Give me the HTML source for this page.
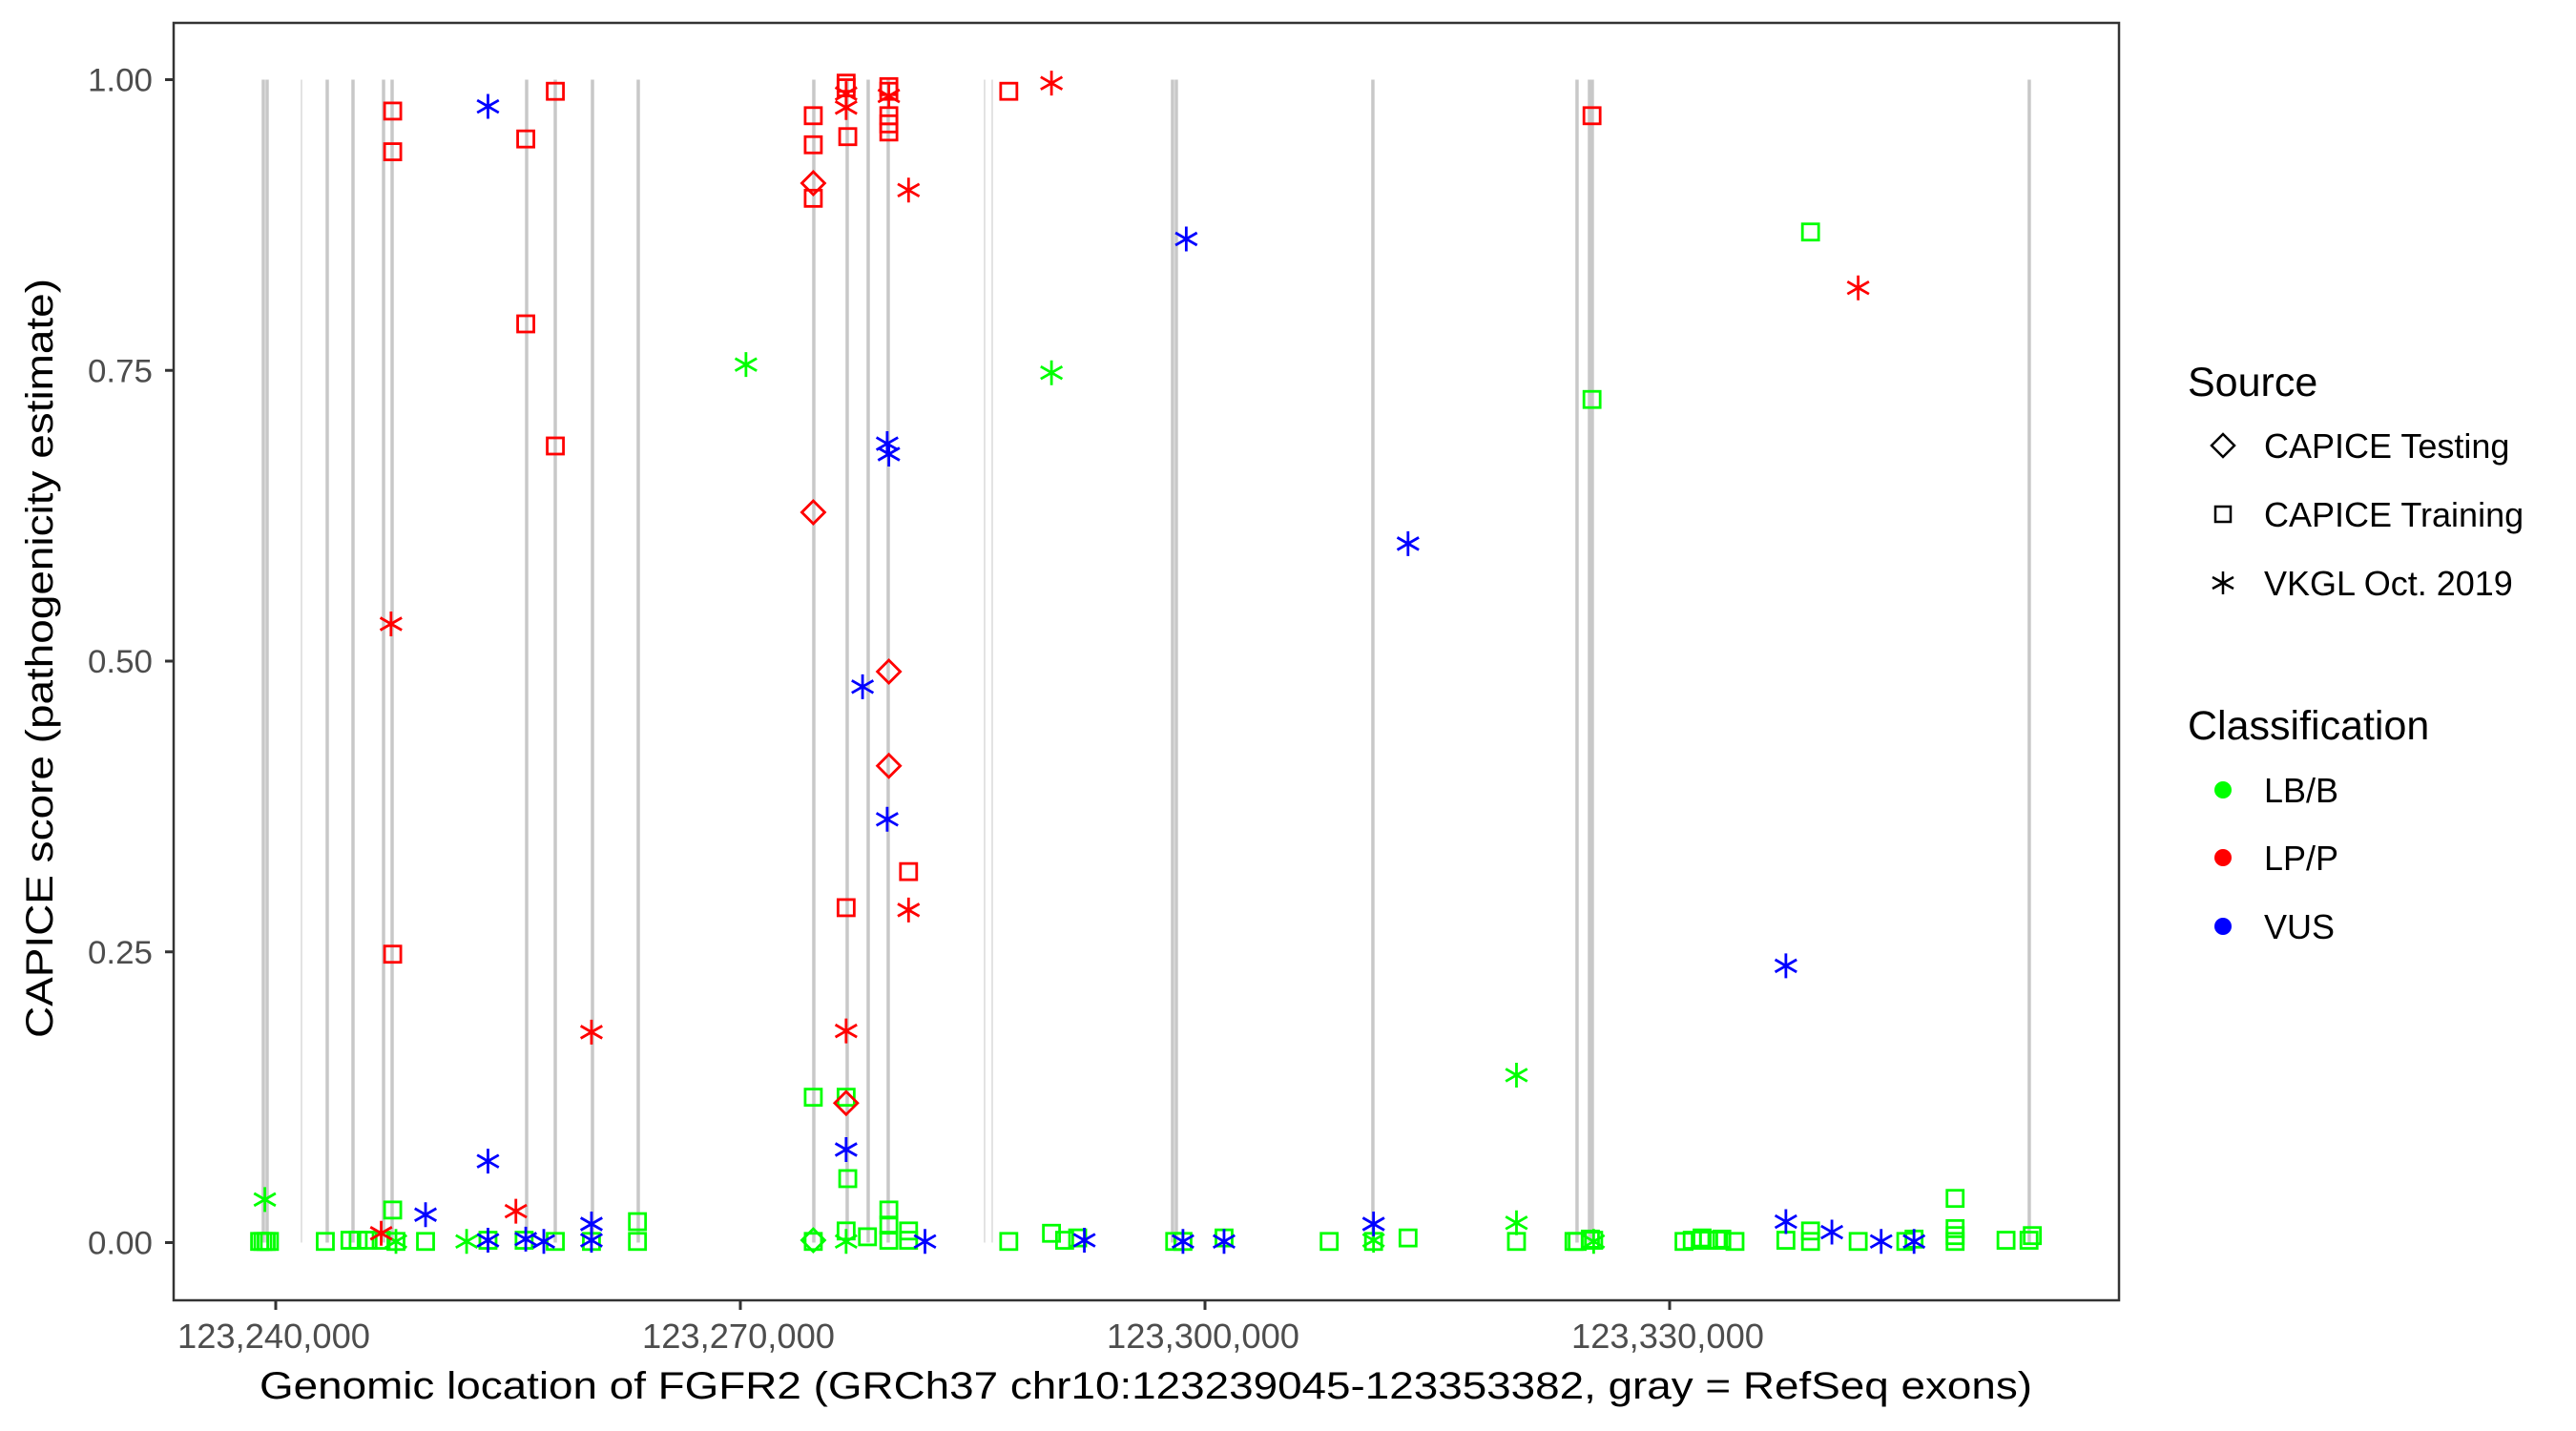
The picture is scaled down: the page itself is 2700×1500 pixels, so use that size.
<!DOCTYPE html>
<html><head><meta charset="utf-8"><title>CAPICE scores FGFR2</title>
<style>
html,body{margin:0;padding:0;background:#fff;}
svg{display:block;font-family:"Liberation Sans",Arial,sans-serif;}
</style></head>
<body>
<svg id="chart" width="2700" height="1500" viewBox="0 0 2700 1500" xmlns="http://www.w3.org/2000/svg">
  <rect x="0" y="0" width="2700" height="1500" fill="#fff"/>
  <g id="exons"></g>
  <g id="points"></g>
  <rect x="182" y="24" width="2039" height="1339" fill="none" stroke="#333" stroke-width="2.5"/>
  <g id="yaxis"></g>
  <g id="xaxis"></g>
  <text x="1201" y="1466" font-size="40" text-anchor="middle" fill="#000" textLength="1858" lengthAdjust="spacingAndGlyphs">Genomic location of FGFR2 (GRCh37 chr10:123239045-123353382, gray = RefSeq exons)</text>
  <text x="0" y="0" transform="translate(55,690) rotate(-90)" font-size="40" text-anchor="middle" fill="#000" textLength="796" lengthAdjust="spacingAndGlyphs">CAPICE score (pathogenicity estimate)</text>
  <g>
    <text x="2293" y="415" font-size="43" fill="#000">Source</text>
    <path d="M2330,455 L2342,467 L2330,479 L2318,467 Z" fill="none" stroke="#000" stroke-width="2.5"/>
    <text x="2373" y="480" font-size="36" fill="#000">CAPICE Testing</text>
    <rect x="2322" y="531" width="16" height="16" fill="none" stroke="#000" stroke-width="2.5"/>
    <text x="2373" y="552" font-size="36" fill="#000">CAPICE Training</text>
    <g stroke="#000" stroke-width="2.5">
      <line x1="2330" y1="599" x2="2330" y2="623"/><line x1="2319" y1="605" x2="2341" y2="617"/><line x1="2319" y1="617" x2="2341" y2="605"/>
    </g>
    <text x="2373" y="624" font-size="36" fill="#000">VKGL Oct. 2019</text>
  </g>
  <g>
    <text x="2293" y="775" font-size="43" fill="#000">Classification</text>
    <circle cx="2330" cy="828" r="9" fill="#00ff00"/>
    <text x="2373" y="841" font-size="36" fill="#000">LB/B</text>
    <circle cx="2330" cy="899" r="9" fill="#ff0000"/>
    <text x="2373" y="912" font-size="36" fill="#000">LP/P</text>
    <circle cx="2330" cy="971" r="9" fill="#0000ff"/>
    <text x="2373" y="984" font-size="36" fill="#000">VUS</text>
  </g>
</svg>
<script>
// ---- data ----
var exonStarts = [123239199,123239446,123241663,123243326,123244990,123246961,123247515,123256201,123258049,123260451,123263408,123274742,123276898,123278254,123279547,123285769,123286262,123297904,123298150,123310840,123324022,123324823,123325008,123353221];
var exonLight = [0,0,1,0,0,0,0,0,0,0,0,0,0,0,0,1,1,0,0,0,0,0,0,0];
var xTickValues = [123240000,123270000,123300000,123330000];
var xTickLabels = ["123,240,000","123,270,000","123,300,000","123,330,000"];
var yTickValues = [0,0.25,0.5,0.75,1];
var yTickLabels = ["0.00","0.25","0.50","0.75","1.00"];

var posR = [123247551,123247551,123247551,123247445,123256144,123256144,123258053,123258053,123274708,123274708,123274708,123276829,123276829,123276829,123276829,123276935,123279587,123279587,123279587,123279587,123279587,123279587,123280860,123287331,123290089,123324990,123342174,123280860,123280860,123276829,123260387,123276829,123255507,123246809];
var scoreR = [0.973,0.938,0.248,0.532,0.949,0.790,0.990,0.685,0.969,0.944,0.898,0.997,0.993,0.988,0.976,0.951,0.994,0.986,0.969,0.962,0.955,0.990,0.905,0.990,0.997,0.969,0.821,0.319,0.286,0.288,0.181,0.182,0.027,0.008];
var srcR = ["S","S","S","A","S","S","S","S","S","S","S","S","S","A","A","S","S","A","S","S","S","S","A","S","A","S","A","S","A","S","A","A","A","A"];
var posRD = [123274708,123274708,123279587,123279587,123276829];
var scoreRD = [0.911,0.628,0.491,0.410,0.120];

var posB = [123253704,123279481,123279587,123298790,123313110,123277890,123279481,123337507,123276829,123253704,123249673,123260387,123310883,123337507,123340477,123253704,123256144,123257310,123260387,123281921,123292211,123298578,123301230,123343659,123345781];
var scoreB = [0.977,0.687,0.678,0.863,0.601,0.478,0.364,0.238,0.080,0.070,0.024,0.016,0.016,0.018,0.009,0.002,0.003,0.001,0.002,0.001,0.002,0.001,0.001,0.001,0.001];

var posGA = [123270362,123290089,123320112,123239298,123320112,123252325,123310883,123247763,123276829,123325096];
var scoreGA = [0.755,0.748,0.144,0.037,0.017,0.001,0.002,0.001,0.001,0.001];
var posGS = [123324990,123339098,123274708,123276829,123276935,123247551,123263357,123348433,123279587,123279587,123276829,123280860,123290089,123339098,123348433,123348433,123353418,123291778,
 123238959,123239171,123239383,123239595,123243202,123244793,123245323,123245960,123246809,123247763,123249673,123258053,123256038,123260387,123263357,123274708,123278208,123279587,123280860,123287331,123290938,123298045,123298578,123301230,123308019,123310883,123313110,123320112,123323825,123324035,123324884,123325096,123330930,123331460,123332097,123332521,123333052,123333370,123334219,123337507,123339098,123342174,123345250,123345781,123348433,123351721,123353206,123253704];
var scoreGS = [0.725,0.869,0.125,0.125,0.055,0.028,0.018,0.038,0.028,0.015,0.010,0.010,0.008,0.010,0.012,0.006,0.006,0.004,
 0.001,0.001,0.001,0.001,0.001,0.002,0.002,0.002,0.002,0.001,0.001,0.001,0.002,0.001,0.001,0.001,0.005,0.002,0.002,0.001,0.002,0.001,0.001,0.004,0.001,0.001,0.004,0.001,0.001,0.001,0.003,0.002,0.001,0.002,0.004,0.002,0.002,0.003,0.001,0.002,0.001,0.001,0.001,0.003,0.001,0.002,0.002,0.002];
var posGD = [123274708];
var scoreGD = [0.002];

// ---- axes ----
var PX0 = 289, GX0 = 123240000, XPB = 1461/90000;
var PY0 = 1302.5, YPU = 1219;
function xs(g){ return PX0 + (g - GX0) * XPB; }
function ys(v){ return PY0 - v * YPU; }
var NS = "http://www.w3.org/2000/svg";
function mk(tag, attrs, parent){ var e = document.createElementNS(NS, tag); for (var k in attrs) e.setAttribute(k, attrs[k]); parent.appendChild(e); return e; }

var gEx = document.getElementById('exons');
for (var i = 0; i < exonStarts.length; i++) {
  var x = xs(exonStarts[i]);
  var l = mk('line', {x1:x, x2:x, y1:ys(1), y2:ys(0), stroke: exonLight[i] ? '#e0e0e0' : '#c8c8c8', 'stroke-width': exonLight[i] ? 1.8 : 3.5}, gEx);
  
  
}

var gY = document.getElementById('yaxis');
for (var i = 0; i < yTickValues.length; i++) {
  var y = ys(yTickValues[i]);
  var t = mk('line', {x1:173, x2:182, y1:y, y2:y, stroke:'#333', 'stroke-width':3}, gY);
  
  
  var tx = mk('text', {x:92, y:y+12, 'font-size':34, fill:'#4d4d4d', textLength:68, lengthAdjust:'spacingAndGlyphs'}, gY);
  tx.textContent = yTickLabels[i];
  
  
}
var gX = document.getElementById('xaxis');
for (var i = 0; i < xTickValues.length; i++) {
  var x = xs(xTickValues[i]);
  var t = mk('line', {x1:x, x2:x, y1:1363, y2:1373, stroke:'#333', 'stroke-width':3}, gX);
  
  
  var tx = mk('text', {x:x-103, y:1413, 'font-size':36, fill:'#4d4d4d', textLength:202, lengthAdjust:'spacingAndGlyphs'}, gX);
  tx.textContent = xTickLabels[i];
  
  
}

// ---- marks ----
var gP = document.getElementById('points');
function drawMark(shape, g, v, col){
  var x = xs(g), y = ys(v), el;
  if (shape === 'S') {
    el = mk('rect', {x:x-8.5, y:y-8.5, width:17, height:17, fill:'none', stroke:col, 'stroke-width':2.8}, gP);
  } else if (shape === 'D') {
    el = mk('path', {d:'M'+x+','+(y-12)+' L'+(x+12)+','+y+' L'+x+','+(y+12)+' L'+(x-12)+','+y+' Z', fill:'none', stroke:col, 'stroke-width':2.8}, gP);
  } else {
    el = mk('path', {d:'M'+x+','+(y-13)+' L'+x+','+(y+13)+' M'+(x-11.3)+','+(y-6.5)+' L'+(x+11.3)+','+(y+6.5)+' M'+(x-11.3)+','+(y+6.5)+' L'+(x+11.3)+','+(y-6.5), fill:'none', stroke:col, 'stroke-width':2.8}, gP);
  }
  
  
}
for (var i = 0; i < posGS.length; i++) drawMark('S', posGS[i], scoreGS[i], '#00ff00');
for (var i = 0; i < posGA.length; i++) drawMark('A', posGA[i], scoreGA[i], '#00ff00');
for (var i = 0; i < posGD.length; i++) drawMark('D', posGD[i], scoreGD[i], '#00ff00');
for (var i = 0; i < posR.length; i++) drawMark(srcR[i], posR[i], scoreR[i], '#ff0000');
for (var i = 0; i < posRD.length; i++) drawMark('D', posRD[i], scoreRD[i], '#ff0000');
for (var i = 0; i < posB.length; i++) drawMark('A', posB[i], scoreB[i], '#0000ff');
</script>
</body></html>
